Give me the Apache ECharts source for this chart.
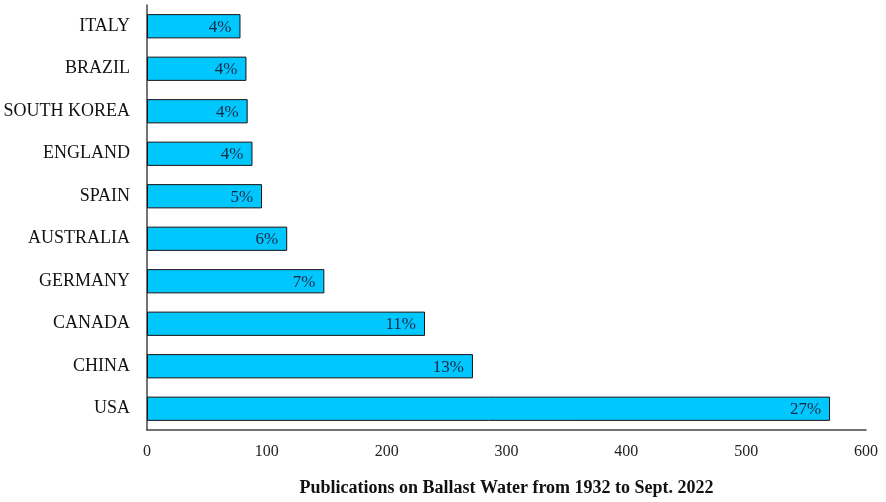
<!DOCTYPE html>
<html>
<head>
<meta charset="utf-8">
<script src="https://cdn.jsdelivr.net/npm/echarts@6/dist/echarts.min.js"></script>
<style>
  html, body { margin: 0; padding: 0; background: #fff; }
  #chart { width: 886px; height: 502px; }
</style>
</head>
<body>
<div id="chart"></div>
<script>
// bottom to top, as the category axis draws them
const countries = ['USA', 'CHINA', 'CANADA', 'GERMANY', 'AUSTRALIA', 'SPAIN', 'ENGLAND', 'SOUTH KOREA', 'BRAZIL', 'ITALY'];
const publications = [570, 272, 232, 148, 117, 96, 88, 84, 83, 78];
const shares = ['27%', '13%', '11%', '7%', '6%', '5%', '4%', '4%', '4%', '4%'];
const xTicks = [0, 100, 200, 300, 400, 500, 600];

const font = '"Liberation Serif", "Times New Roman", serif';
const chart = echarts.init(document.getElementById('chart'));

chart.setOption({
  animation: false,
  grid: { left: 147, right: 20, top: 5, bottom: 70 },
  xAxis: {
    type: 'value',
    min: xTicks[0],
    max: xTicks[xTicks.length - 1],
    interval: 100,
    name: 'Publications on Ballast Water from 1932 to Sept. 2022',
    nameLocation: 'middle',
    nameGap: 49,
    nameTextStyle: { fontFamily: font, fontSize: 18, fontWeight: 'bold', color: '#111' },
    axisLine: { show: true, lineStyle: { color: '#444', width: 1.5 } },
    axisTick: { show: false },
    splitLine: { show: false },
    axisLabel: { fontFamily: font, fontSize: 16, color: '#222', margin: 14 }
  },
  yAxis: {
    type: 'category',
    data: countries,
    axisLine: { show: true, lineStyle: { color: '#444', width: 1.5 } },
    axisTick: { show: false },
    axisLabel: { fontFamily: font, fontSize: 18, color: '#111', margin: 17 }
  },
  series: [{
    type: 'bar',
    data: publications,
    barWidth: '57%',
    itemStyle: { color: '#00c8ff', borderColor: '#111', borderWidth: 1 },
    label: {
      show: true,
      position: 'insideRight',
      distance: 9,
      offset: [0, 1],
      fontFamily: font,
      fontSize: 17,
      color: '#1a2846',
      formatter: (p) => shares[p.dataIndex]
    }
  }]
});
</script>
</body>
</html>
